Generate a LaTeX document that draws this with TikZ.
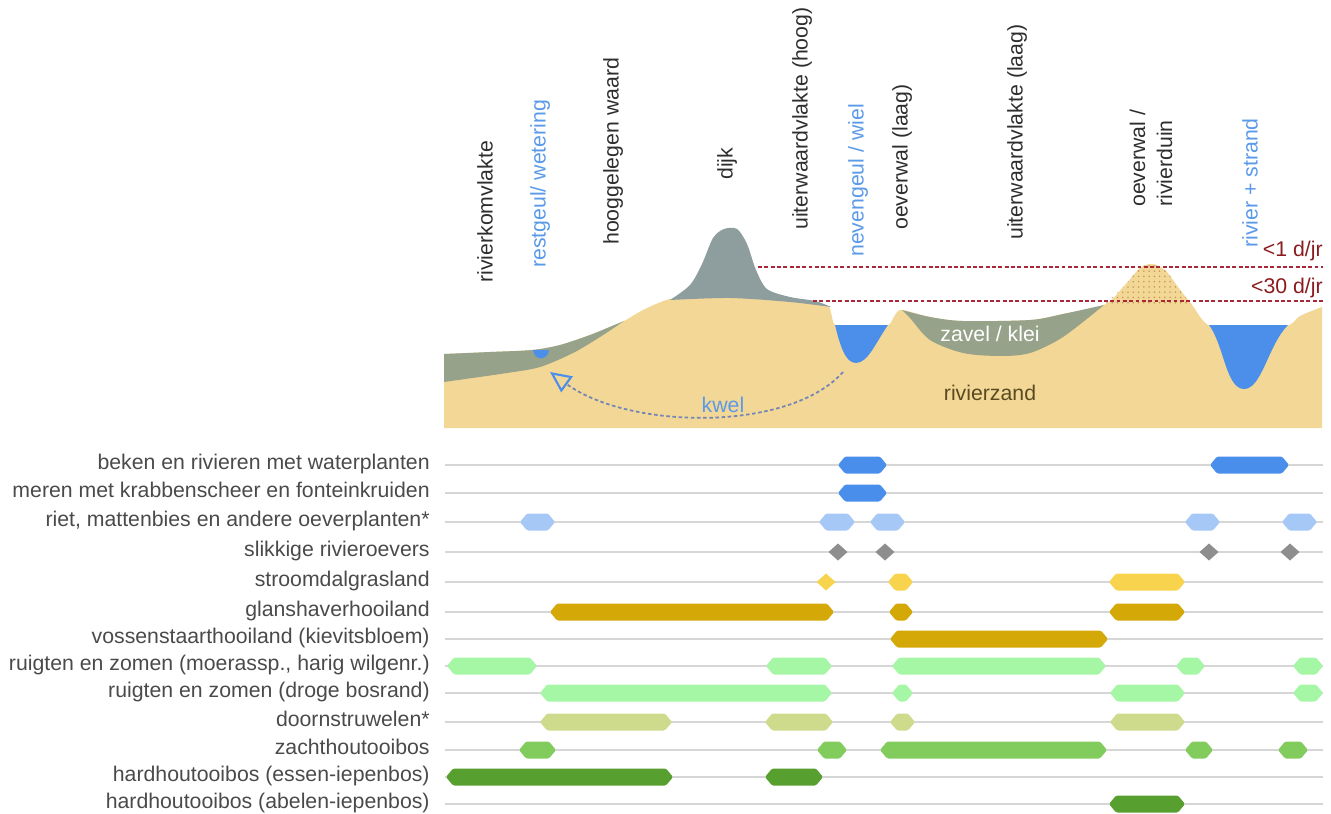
\documentclass[tikz,border=0pt]{standalone}
\usepackage{fontspec}
\setmainfont{Liberation Sans}
\usetikzlibrary{arrows.meta,patterns}

\definecolor{sand}{HTML}{F2D796}
\definecolor{clay}{HTML}{96A28A}
\definecolor{dike}{HTML}{8E9D9E}
\definecolor{water}{HTML}{4B8FEB}
\definecolor{dunedot}{HTML}{C49A52}
\definecolor{labelgrey}{HTML}{2E2E2E}
\definecolor{rowgrey}{HTML}{4A4A4A}
\definecolor{linegrey}{HTML}{D6D6D6}
\definecolor{labelblue}{HTML}{5A9AE8}
\definecolor{floodred}{HTML}{A8283A}
\definecolor{floodtext}{HTML}{8A1B1E}
\definecolor{sandtext}{HTML}{5A4A22}
\definecolor{kwelgrey}{HTML}{7486B4}

% bar colours
\definecolor{waterblue}{HTML}{4A8EEB}
\definecolor{reedblue}{HTML}{A6C8F7}
\definecolor{mudgrey}{HTML}{8E8E8E}
\definecolor{grasyellow}{HTML}{F8D44E}
\definecolor{haygold}{HTML}{D4A806}
\definecolor{mint}{HTML}{A5F7A5}
\definecolor{khaki}{HTML}{CEDB8C}
\definecolor{midgreen}{HTML}{82CC5E}
\definecolor{darkgreen}{HTML}{579F2E}

% habitat bar: from x #1 to x #2 on row y #3
\newcommand{\habitat}[4]{%
  \fill[#4, rounded corners=0.8pt] (#1,#3) -- (#1+7,#3-8.5) -- (#2-7,#3-8.5)
    -- (#2,#3) -- (#2-7,#3+8.5) -- (#1+7,#3+8.5) -- cycle;}
% small diamond at x #1 on row y #2
\newcommand{\diamondmark}[3]{%
  \fill[#3] (#1-9.5,#2) -- (#1,#2-8.5) -- (#1+9.5,#2) -- (#1,#2+8.5) -- cycle;}

\begin{document}
\begin{tikzpicture}[x=0.02cm, y=-0.02cm, font=\fontsize{12.1}{15.3}\selectfont,
    toplabel/.style={rotate=90, anchor=west, inner sep=0pt, text=labelgrey},
    rowlabel/.style={anchor=mid east, inner sep=0pt, text=rowgrey},
    rowline/.style={draw=linegrey, line width=0.8pt},
    floodline/.style={draw=floodred, line width=0.6pt, dash pattern=on 2.2pt off 1.4pt},
    kwel/.style={draw=kwelgrey, line width=1pt, dash pattern=on 2pt off 1.5pt,
      -{Triangle[open, length=12pt, width=11pt, line width=1.2pt, color=water]}}]
    \useasboundingbox (0,0) rectangle (1331,814);

    % Sand body
    \fill[sand] (444,428) -- plot[smooth, tension=0.5] coordinates {
        (444,354) (490,352) (532,350) (560,345) (590,335) (612,326) (624,321)
        (645,309) (670,299) (700,296) (730,296) (790,300) (826,305) (831,313)
        (836,326) (860,329) (887,326) (895,315) (902,310) (930,317) (963,321)
        (1030,320) (1063,314) (1104,305) (1125,285) (1140,268) (1152,264)
        (1165,270) (1178,287) (1192,305) (1210,326) (1250,329) (1287,326)
        (1300,316) (1322,307)} -- (1322,428) -- cycle;

    % Dune stippling
    \fill[pattern=dots, pattern color=dunedot] plot[smooth, tension=0.5] coordinates {
        (1104,305) (1125,285) (1140,268) (1152,264) (1165,270) (1178,287) (1192,305)} -- cycle;

    % Clay layers
    \fill[clay] plot[smooth, tension=0.5] coordinates {
        (444,354) (490,352) (532,350) (560,345) (590,335) (612,326) (624,321)}
      -- plot[smooth, tension=0.5] coordinates {
        (624,321) (600,337) (573,353) (540,367) (507,373) (444,382)} -- cycle;
    \fill[clay] plot[smooth, tension=0.5] coordinates {
        (902,310) (930,317) (963,321) (1030,320) (1063,314) (1104,305)}
      -- plot[smooth, tension=0.5] coordinates {
        (1104,305) (1063,337) (1030,353) (1000,356) (963,353) (930,340) (910,318) (902,310)} -- cycle;

    % Dike
    \fill[dike] plot[smooth, tension=0.5] coordinates {
        (670,300) (690,285) (702,264) (713,238) (724,229) (737,229) (747,244)
        (756,270) (767,289) (790,297) (815,301) (831,307)}
      -- plot[smooth, tension=0.5] coordinates {
        (831,307) (790,302) (730,298) (670,300)} -- cycle;

    % Water
    \fill[water] (533,350) .. controls (534,361) and (548,361) .. (549,350) -- cycle;
    \fill[water] (835,325) -- (888,325) .. controls (876,342) and (868,363) .. (856,363)
        .. controls (845,363) and (840,345) .. (835,325) -- cycle;
    \fill[water] (1209,325) -- (1288,325) .. controls (1268,345) and (1262,389) .. (1244,389)
        .. controls (1226,389) and (1224,345) .. (1209,325) -- cycle;

    % Flooding levels
    \coordinate (hw1a) at (758,267);
    \coordinate (hw1b) at (1323,267);
    \coordinate (hw30a) at (813,301);
    \coordinate (hw30b) at (1323,301);
    \draw[floodline] (hw1a) -- (hw1b);
    \draw[floodline] (hw30a) -- (hw30b);
    \node[anchor=mid east, inner sep=0pt, text=floodtext] (lvl1) at (1323,252) {<1 d/jr};
    \node[anchor=mid east, inner sep=0pt, text=floodtext] (lvl30) at (1323,289) {<30 d/jr};

    % Seepage
    \coordinate (kwelstart) at (843,372);
    \coordinate (kwelend) at (550,372);
    \draw[kwel] (kwelstart) .. controls (790,432) and (630,430) .. (kwelend);
    \node[text=labelblue] (kwellbl) at (723,405) {kwel};
    \node[text=white] (zavel) at (990,334) {zavel / klei};
    \node[text=sandtext] (zand) at (990,393) {rivierzand};

    % Landscape units
    \node[toplabel] (komvlakte) at (485,283) {rivierkomvlakte};
    \node[toplabel, text=labelblue] (restgeul) at (540,268) {restgeul/ wetering};
    \node[toplabel] (waard) at (613,245) {hooggelegen waard};
    \node[toplabel] (dijk) at (727,180) {dijk};
    \node[toplabel] (uwhoog) at (802,230) {uiterwaardvlakte (hoog)};
    \node[toplabel, text=labelblue] (nevengeul) at (858,257) {nevengeul / wiel};
    \node[toplabel] (oeverlaag) at (902,230) {oeverwal (laag)};
    \node[toplabel] (uwlaag) at (1017,240) {uiterwaardvlakte (laag)};
    \node[toplabel, align=left] (rivierduin) at (1151,207) {oeverwal /\\rivierduin};
    \node[toplabel, text=labelblue] (rivier) at (1250,248) {rivier + strand};

    % Habitat rows
    \node[rowlabel] (beken) at (430,465) {beken en rivieren met waterplanten};
    \node[rowlabel] (meren) at (430,493) {meren met krabbenscheer en fonteinkruiden};
    \node[rowlabel] (riet) at (430,522) {riet, mattenbies en andere oeverplanten*};
    \node[rowlabel] (slik) at (430,552) {slikkige rivieroevers};
    \node[rowlabel] (stroomdal) at (430,582) {stroomdalgrasland};
    \node[rowlabel] (glanshaver) at (430,612) {glanshaverhooiland};
    \node[rowlabel] (vossen) at (430,639) {vossenstaarthooiland (kievitsbloem)};
    \node[rowlabel] (ruigtnat) at (430,666) {ruigten en zomen (moerassp., harig wilgenr.)};
    \node[rowlabel] (ruigtdroog) at (430,693) {ruigten en zomen (droge bosrand)};
    \node[rowlabel] (doorn) at (430,722) {doornstruwelen*};
    \node[rowlabel] (zacht) at (430,750) {zachthoutooibos};
    \node[rowlabel] (hardessen) at (430,777) {hardhoutooibos (essen-iepenbos)};
    \node[rowlabel] (hardabelen) at (430,804) {hardhoutooibos (abelen-iepenbos)};

    \draw[rowline] (445,465) -- (1323,465);
    \draw[rowline] (445,493) -- (1323,493);
    \draw[rowline] (445,522) -- (1323,522);
    \draw[rowline] (445,552) -- (1323,552);
    \draw[rowline] (445,582) -- (1323,582);
    \draw[rowline] (445,612) -- (1323,612);
    \draw[rowline] (445,639) -- (1323,639);
    \draw[rowline] (445,666) -- (1323,666);
    \draw[rowline] (445,693) -- (1323,693);
    \draw[rowline] (445,722) -- (1323,722);
    \draw[rowline] (445,750) -- (1323,750);
    \draw[rowline] (445,777) -- (1323,777);
    \draw[rowline] (445,804) -- (1323,804);

    % Water and banks
    \habitat{838}{887}{465}{waterblue}
    \habitat{1210}{1289}{465}{waterblue}
    \habitat{838}{887}{493}{waterblue}
    \habitat{520}{555}{522}{reedblue}
    \habitat{819}{855}{522}{reedblue}
    \habitat{870}{905}{522}{reedblue}
    \habitat{1185}{1220}{522}{reedblue}
    \habitat{1282}{1317}{522}{reedblue}
    \diamondmark{838}{552}{mudgrey}
    \diamondmark{885}{552}{mudgrey}
    \diamondmark{1209}{552}{mudgrey}
    \diamondmark{1290}{552}{mudgrey}

    % Grasslands
    \diamondmark{826}{582}{grasyellow}
    \habitat{888}{913}{582}{grasyellow}
    \habitat{1109}{1185}{582}{grasyellow}
    \habitat{550}{834}{612}{haygold}
    \habitat{889}{913}{612}{haygold}
    \habitat{1109}{1185}{612}{haygold}
    \habitat{890}{1108}{639}{haygold}

    % Tall herbs and shrubs
    \habitat{447}{537}{666}{mint}
    \habitat{766}{832}{666}{mint}
    \habitat{892}{1106}{666}{mint}
    \habitat{1176}{1205}{666}{mint}
    \habitat{1293}{1323}{666}{mint}
    \habitat{540}{832}{693}{mint}
    \habitat{892}{913}{693}{mint}
    \habitat{1110}{1185}{693}{mint}
    \habitat{1293}{1323}{693}{mint}
    \habitat{540}{672}{722}{khaki}
    \habitat{765}{833}{722}{khaki}
    \habitat{890}{915}{722}{khaki}
    \habitat{1110}{1185}{722}{khaki}

    % Floodplain forest
    \habitat{519}{556}{750}{midgreen}
    \habitat{817}{847}{750}{midgreen}
    \habitat{880}{1107}{750}{midgreen}
    \habitat{1185}{1213}{750}{midgreen}
    \habitat{1278}{1308}{750}{midgreen}
    \habitat{446}{673}{777}{darkgreen}
    \habitat{765}{823}{777}{darkgreen}
    \habitat{1109}{1185}{804}{darkgreen}
\end{tikzpicture}
\end{document}
